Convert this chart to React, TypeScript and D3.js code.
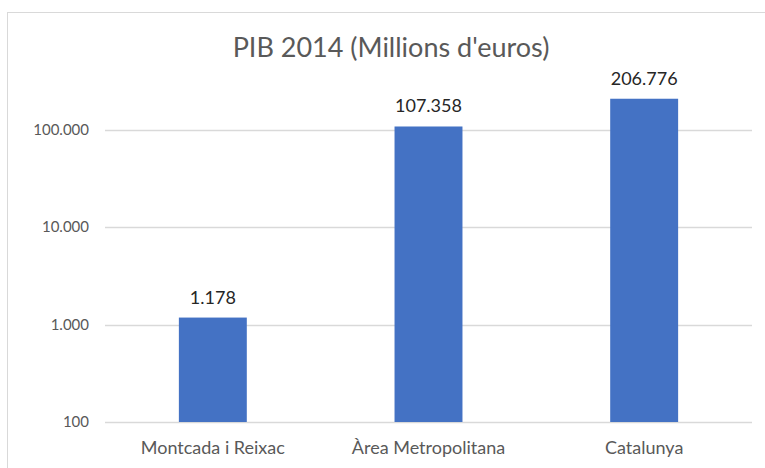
import React, { useEffect, useRef } from 'react';
import * as d3 from 'd3';

const categories = ["Montcada i Reixac", "Àrea Metropolitana", "Catalunya"];
const values = [1178, 107358, 206776];
const tickValues = [100, 1000, 10000, 100000];
const title = "PIB 2014 (Millions d'euros)";

const fmt = (v: number) => d3.format(",")(v).replace(/,/g, ".");

const App: React.FC = () => {
  const svgRef = useRef<SVGSVGElement>(null);

  useEffect(() => {
    if (!svgRef.current) return;
    const svg = d3.select(svgRef.current);
    svg.selectAll("*").remove();

    const font = "Lato, 'Open Sans', sans-serif";
    const margin = { top: 32, left: 105, right: 13, bottom: 46 };
    const W = 765, H = 468;

    // chart frame
    svg.append("rect")
      .attr("x", 7.5).attr("y", 12.5)
      .attr("width", W - 5).attr("height", H)
      .style("fill", "#fff")
      .style("stroke", "#d9d9d9");

    const x = d3.scaleBand()
      .domain(categories)
      .range([margin.left, W - margin.right])
      .paddingInner(0.685)
      .paddingOuter(0.3425);

    const y = d3.scaleLog()
      .domain([100, 1000000])
      .range([422, 32]);

    // gridlines
    svg.append("g")
      .selectAll("line")
      .data(tickValues)
      .join("line")
      .attr("x1", margin.left)
      .attr("x2", W - margin.right)
      .attr("y1", d => Math.round(y(d)) + 0.5)
      .attr("y2", d => Math.round(y(d)) + 0.5)
      .style("stroke", "#d9d9d9")
      .style("stroke-width", 1.5);

    // y tick labels
    svg.append("g")
      .selectAll("text")
      .data(tickValues)
      .join("text")
      .attr("x", 89)
      .attr("y", d => y(d))
      .attr("dy", "0.35em")
      .style("text-anchor", "end")
      .style("font-family", font)
      .style("font-size", "15px")
      .style("fill", "#595959")
      .text(d => fmt(d));

    // bars
    svg.append("g")
      .selectAll("rect")
      .data(values)
      .join("rect")
      .attr("x", (d, i) => x(categories[i])!)
      .attr("width", x.bandwidth())
      .attr("y", d => y(d))
      .attr("height", d => y(100) - y(d))
      .style("fill", "#4472c4");

    // value labels
    svg.append("g")
      .selectAll("text")
      .data(values)
      .join("text")
      .attr("x", (d, i) => x(categories[i])! + x.bandwidth() / 2)
      .attr("y", d => y(d) - 14)
      .style("text-anchor", "middle")
      .style("font-family", font)
      .style("font-size", "18px")
      .style("fill", "#262626")
      .text(d => fmt(d));

    // category labels
    svg.append("g")
      .selectAll("text")
      .data(categories)
      .join("text")
      .attr("x", d => x(d)! + x.bandwidth() / 2)
      .attr("y", 454)
      .style("text-anchor", "middle")
      .style("font-family", font)
      .style("font-size", "18px")
      .style("fill", "#595959")
      .text(d => d);

    // title
    svg.append("text")
      .attr("x", 391)
      .attr("y", 57)
      .style("text-anchor", "middle")
      .style("font-family", font)
      .style("font-size", "27px")
      .style("fill", "#595959")
      .text(title);
  }, []);

  return (
    <svg
      ref={svgRef}
      width={765}
      height={468}
      style={{ position: "absolute", left: 0, top: 0, background: "#fff" }}
    />
  );
};

export default App;
